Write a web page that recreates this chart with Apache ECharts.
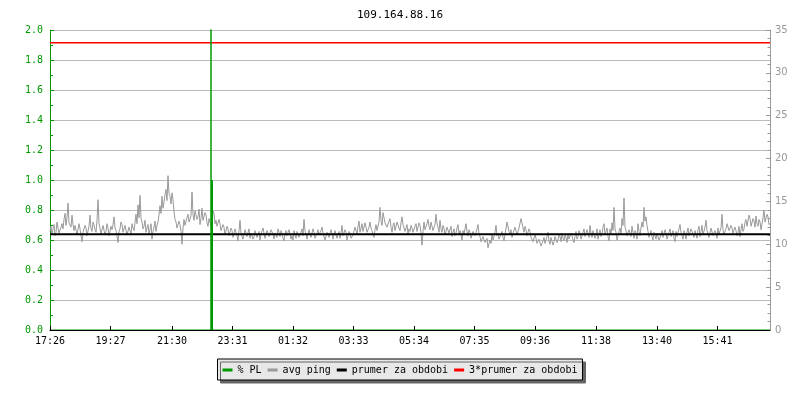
<!DOCTYPE html>
<html><head><meta charset="utf-8">
<script src="https://cdn.jsdelivr.net/npm/echarts@6/dist/echarts.min.js"></script>
<style>html,body{margin:0;padding:0;background:#fff}#c{width:800px;height:400px}</style>
</head><body><div id="c"></div>
<script>
const chartTitle = '109.164.88.16';
const tickLabels = ['17:26','19:27','21:30','23:31','01:32','03:33','05:34','07:35','09:36','11:38','13:40','15:41'];
const startTime = '17:26';
const spanMinutes = 1440;
const stepMinutes = 2;
const seriesNames = ['% PL', 'avg ping', 'prumer za obdobi', '3*prumer za obdobi'];

// avg ping [ms], one value every 2 minutes from 17:26
const avgPing = [
  11.5,12.1,11.1,11.8,12.3,11.0,11.4,12.6,11.9,11.3,
  11.2,12.0,12.4,11.8,12.9,13.6,12.2,13.1,14.8,12.5,
  12.7,12.0,13.4,12.3,11.6,12.2,12.0,11.1,11.3,12.4,
  11.8,11.0,10.3,11.4,11.6,12.2,11.9,11.0,11.2,12.1,
  13.4,11.8,11.5,12.6,12.3,11.7,11.4,12.8,15.2,12.4,
  11.9,11.2,11.3,12.2,12.1,11.1,11.5,12.4,11.9,11.0,
  11.2,12.1,11.7,12.3,13.2,11.9,11.6,11.0,10.2,11.5,
  11.8,12.6,12.3,11.4,11.5,12.2,12.0,11.1,11.3,12.0,
  11.8,11.2,12.4,11.9,11.6,12.5,13.5,12.4,14.6,13.1,
  15.7,13.0,12.6,11.8,12.1,12.8,11.4,11.9,12.3,11.2,
  11.7,12.4,10.6,11.5,12.0,12.7,11.5,12.2,12.6,13.4,
  14.5,13.6,15.6,14.2,14.9,15.8,16.4,15.1,18.0,15.9,
  15.6,14.7,16.0,15.2,13.8,12.9,12.6,11.9,11.8,12.7,
  12.3,11.5,10.0,11.9,12.9,12.2,12.1,13.1,13.5,12.6,
  12.4,13.3,16.1,13.5,12.8,13.9,14.0,12.9,13.2,14.1,
  12.3,13.0,14.2,12.8,12.6,13.7,13.4,12.5,12.1,13.0,
  12.9,12.2,12.5,13.9,13.6,12.4,12.8,12.1,11.9,12.9,
  12.4,11.6,11.4,12.3,12.0,11.1,11.2,12.1,11.8,11.0,
  11.0,11.9,11.6,10.8,10.9,11.8,11.7,11.0,10.4,11.6,
  12.8,11.3,11.5,10.6,10.8,11.7,11.6,10.9,11.1,11.8,
  10.7,11.3,11.4,10.6,10.9,11.6,11.8,10.8,11.0,11.5,
  10.5,11.2,11.3,11.9,11.7,10.7,10.8,11.6,11.5,10.9,
  11.0,11.7,11.9,11.2,10.6,11.3,11.4,10.8,11.8,11.4,
  10.9,11.6,11.3,10.7,10.4,11.2,11.6,11.0,11.0,11.7,
  11.2,
  10.6,11.0,10.5,11.6,11.1,10.7,11.5,11.3,10.8,10.6,
  11.4,11.8,11.0,12.9,11.6,11.2,10.6,10.8,11.7,11.5,
  10.8,10.9,11.8,11.4,10.7,10.5,11.3,11.7,11.1,11.0,
  11.6,12.0,11.3,11.2,10.5,10.6,11.4,11.6,10.8,11.0,
  11.7,11.3,10.6,10.8,11.6,11.5,10.7,11.1,11.5,10.7,
  11.3,12.2,11.0,10.9,11.7,11.4,10.5,10.6,11.5,11.2,
  10.7,10.5,11.1,11.3,12.0,11.8,11.2,12.1,12.7,11.4,
  11.9,12.4,11.5,11.7,12.5,12.0,11.4,11.3,12.0,12.6,
  11.9,11.6,11.1,10.8,11.7,12.3,11.6,11.5,12.6,14.3,
  12.8,12.2,13.7,13.8,12.5,12.6,12.0,11.9,12.7,13.0,
  12.0,11.4,12.2,12.5,11.6,11.8,12.6,12.8,11.9,11.6,
  12.5,13.2,12.3,12.4,11.5,11.7,12.3,11.2,11.8,11.5,
  12.2,11.9,11.4,11.3,12.1,12.4,11.5,11.6,12.5,12.2,
  11.3,9.9,11.5,12.6,11.7,11.8,12.4,12.9,12.1,11.7,
  12.6,12.4,11.6,11.5,12.3,13.5,12.4,12.0,11.4,12.8,
  11.8,11.4,12.2,11.9,11.1,11.2,12.0,12.1,11.3,11.5,
  12.1,10.9,11.4,11.8,11.0,11.3,11.9,12.3,11.2,11.6,
  11.1,10.5,11.6,11.2,11.8,12.4,11.5,11.0,11.7,11.4,
  10.7,10.8,11.5,11.7,11.0,11.1,11.8,12.3,11.2,10.9,
  10.3,10.4,10.9,11.0,10.2,10.0,10.7,9.6,10.1,10.5,
  10.1,11.2,10.5,10.7,11.4,12.2,11.0,11.3,10.6,10.6,
  11.2,11.5,10.8,10.4,11.1,11.0,12.6,12.4,11.5,11.2,
  11.7,10.8,11.3,11.5,12.0,11.9,11.1,11.2,11.9,12.0,
  13.0,12.8,11.9,11.4,12.1,11.7,11.0,11.1,11.8,11.5,
  10.8,11.0,10.3,10.4,11.1,10.7,10.1,9.9,10.6,10.5,
  9.8,9.6,10.4,10.8,10.1,10.2,10.9,11.4,10.4,10.0,
  10.8,10.6,9.9,10.3,10.9,11.0,10.2,10.5,11.2,10.9,
  10.3,11.3,10.7,10.4,11.1,10.8,10.2,11.2,10.6,10.6,
  11.3,11.0,10.5,10.2,10.9,11.5,10.6,10.9,11.6,11.3,
  10.6,10.7,11.4,11.8,10.9,11.1,11.7,11.5,10.8,12.2,
  11.3,10.8,11.6,11.4,10.7,11.0,11.8,10.6,11.2,11.7,
  10.9,11.2,12.0,12.4,11.1,11.3,11.9,10.9,10.4,11.8,
  11.2,12.5,11.6,14.3,11.8,11.4,10.5,10.6,11.5,11.9,
  11.1,13.0,12.2,15.4,12.0,11.6,11.0,10.8,11.7,11.5,
  10.9,12.1,11.4,10.7,11.6,11.3,10.6,12.4,11.5,11.0,
  11.9,12.6,12.0,14.3,12.7,13.2,12.2,11.5,10.8,11.2,
  11.6,10.9,10.5,11.4,11.0,10.6,11.3,11.2,10.5,10.4,
  11.1,11.6,10.8,10.9,11.7,11.3,10.6,10.5,11.4,11.8,
  10.9,11.0,11.6,10.7,10.3,11.5,10.9,11.1,11.8,12.3,
  11.4,11.0,10.6,11.6,11.2,10.6,11.4,11.9,11.0,11.2,
  11.8,12.0,11.2,10.8,11.6,11.4,10.7,11.7,12.1,10.9,
  11.5,12.2,11.1,11.3,12.0,12.8,11.6,11.5,10.8,11.0,
  11.9,11.7,11.0,10.8,11.6,11.3,10.7,11.9,11.2,11.4,
  11.9,13.5,11.7,11.2,11.0,11.8,12.4,12.3,11.6,11.4,
  12.2,11.9,11.3,11.1,12.0,11.6,11.0,11.3,12.1,10.9,
  11.7,12.4,11.5,11.8,12.6,12.9,12.1,12.0,13.4,13.0,
  12.1,12.2,13.0,12.7,12.0,13.3,12.4,12.1,12.9,12.6,
  11.7,11.8,13.1,14.0,12.6,12.5,13.5,13.2,12.3,12.4
];

// packet loss [%]: spike line (minute offsets, values) and the 1 % sample
const plMinutes = [0, 322, 322, 322, 1440];
const plValues  = [0, 0, 6, 0, 0];
const plBarMinutes = [324];
const plBarValues  = [1];

// average over the period [ms]
const meanPing = 11.17;

const toMin = s => { const p = s.split(':'); return (+p[0]) * 60 + (+p[1]); };
const t0 = toMin(startTime);
const tickMinutes = tickLabels.map(l => (toMin(l) - t0 + 1440) % 1440);

const pingData = avgPing.map((v, i) => [i * stepMinutes, v]);
const plData = plMinutes.map((m, i) => [m, plValues[i]]);
const plBarData = plBarMinutes.map((m, i) => [m, plBarValues[i]]);

const mono = 'DejaVu Sans Mono';
const chart = echarts.init(document.getElementById('c'), null, { renderer: 'canvas' });
chart.setOption({
  animation: false,
  backgroundColor: '#fff',
  title: {
    text: chartTitle, left: 'center', top: 5,
    textStyle: { fontFamily: mono, fontSize: 11, fontWeight: 'normal', color: '#000' }
  },
  grid: { left: 50, right: 30, top: 30, bottom: 70, containLabel: false, outerBoundsMode: 'none' },
  legend: {
    data: seriesNames,
    left: 'center', top: 359,
    icon: 'rect', itemWidth: 10, itemHeight: 3, itemGap: 6,
    textStyle: { fontFamily: mono, fontSize: 10, color: '#000' },
    backgroundColor: '#e8e8e8', borderColor: '#000', borderWidth: 1, borderRadius: 0,
    padding: [6, 5, 5, 5],
    shadowColor: '#666', shadowOffsetX: 3, shadowOffsetY: 3, shadowBlur: 0
  },
  xAxis: {
    type: 'value', min: 0, max: spanMinutes, z: 10,
    axisLine: { show: true, onZero: false, lineStyle: { color: '#000', width: 1 } },
    axisTick: { show: true, inside: true, length: 4, customValues: tickMinutes, lineStyle: { color: '#000' } },
    axisLabel: {
      customValues: tickMinutes, margin: 6,
      fontFamily: mono, fontSize: 10, color: '#000',
      formatter: v => { const i = tickMinutes.indexOf(v); return i >= 0 ? tickLabels[i] : ''; }
    },
    splitLine: { show: false }
  },
  yAxis: [
    {
      type: 'value', min: 0, max: 2, interval: 0.2, position: 'left',
      axisLine: { show: true, lineStyle: { color: '#009900', width: 1 } },
      axisTick: { show: true, inside: true, length: 4, lineStyle: { color: '#009900' } },
      minorTick: { show: true, splitNumber: 2, length: 3, lineStyle: { color: '#009900' } },
      axisLabel: { fontFamily: mono, fontSize: 10, color: '#009900', margin: 7, formatter: v => v.toFixed(1) },
      splitLine: { show: true, lineStyle: { color: '#bbb', width: 1 } }
    },
    {
      type: 'value', min: 0, max: 35, interval: 5, position: 'right',
      axisLine: { show: true, lineStyle: { color: '#999', width: 1 } },
      axisTick: { show: true, inside: true, length: 4, lineStyle: { color: '#999' } },
      minorTick: { show: true, splitNumber: 5, length: 2.5, lineStyle: { color: '#999' } },
      axisLabel: { fontFamily: 'DejaVu Sans', fontSize: 10, color: '#999', margin: 5 },
      splitLine: { show: false }
    }
  ],
  series: [
    {
      name: seriesNames[0], type: 'line', yAxisIndex: 0, data: plData,
      showSymbol: false, clip: true, z: 4, color: '#009900',
      lineStyle: { color: '#009900', width: 1 }
    },
    {
      name: seriesNames[0], type: 'bar', yAxisIndex: 0, data: plBarData,
      barWidth: 2, z: 4, color: '#009900',
      itemStyle: { color: '#009900' }
    },
    {
      name: seriesNames[1], type: 'line', yAxisIndex: 1, data: pingData,
      showSymbol: false, z: 2, color: '#999',
      lineStyle: { color: '#999', width: 1 }
    },
    {
      name: seriesNames[2], type: 'line', yAxisIndex: 1, data: [[0, meanPing], [spanMinutes, meanPing]],
      showSymbol: false, z: 3, color: '#000',
      lineStyle: { color: '#000', width: 2 }
    },
    {
      name: seriesNames[3], type: 'line', yAxisIndex: 1, data: [[0, 3 * meanPing], [spanMinutes, 3 * meanPing]],
      showSymbol: false, z: 3, color: '#ff0000',
      lineStyle: { color: '#ff0000', width: 1.5 }
    }
  ]
});
</script></body></html>
